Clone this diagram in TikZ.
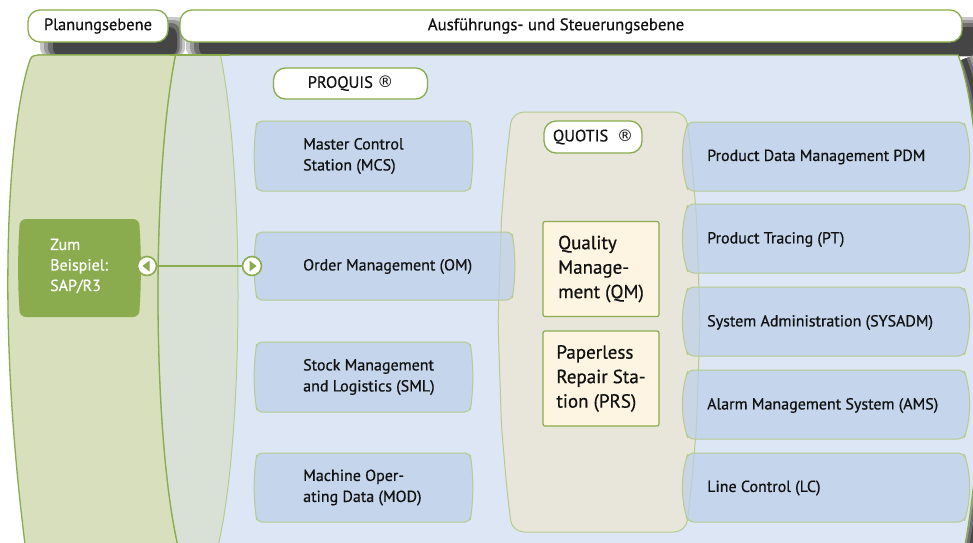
\documentclass[tikz,border=0pt]{standalone}
\usepackage{fontspec}
\setmainfont{PT Sans}[UprightFeatures={FakeBold=0.6}]
\newfontfamily\symfont{DejaVu Sans}
\definecolor{gdark}{HTML}{8AAC4E}
\definecolor{glight}{HTML}{B5CC8E}
\definecolor{gbody}{HTML}{D7DFBC}
\definecolor{gface}{HTML}{D9E1D7}
\definecolor{bluebg}{HTML}{DCE6F4}
\definecolor{bluebox}{HTML}{BBCFE9}
\definecolor{quotisc}{HTML}{E8E6DA}
\definecolor{cream}{HTML}{FDF5E1}
\definecolor{txt}{HTML}{111111}
\definecolor{sha}{HTML}{C8C8C8}
\definecolor{shb}{HTML}{9A9A9A}
\definecolor{shc}{HTML}{6E6E6E}
\definecolor{shd}{HTML}{454545}
% barrel-shaped box: #1 style, #2 x1, #3 y1, #4 x2, #5 y2, #6 bulge
\newcommand\barrel[6]{%
\path[#1] ({#2+#6},#3) -- ({#4-#6},#3)
 -- ({#4-0.64*#6},{#3+0.1*(#5-#3)})
 -- ({#4-0.25*#6},{#3+0.25*(#5-#3)})
 -- (#4,{#3+0.5*(#5-#3)})
 -- ({#4-0.25*#6},{#3+0.75*(#5-#3)})
 -- ({#4-0.64*#6},{#3+0.9*(#5-#3)})
 -- ({#4-#6},#5) -- ({#2+#6},#5)
 -- ({#2+0.64*#6},{#3+0.9*(#5-#3)})
 -- ({#2+0.25*#6},{#3+0.75*(#5-#3)})
 -- (#2,{#3+0.5*(#5-#3)})
 -- ({#2+0.25*#6},{#3+0.25*(#5-#3)})
 -- ({#2+0.64*#6},{#3+0.1*(#5-#3)})
 -- cycle;}
\newcommand\regmark{{\symfont\fontsize{16}{16}\selectfont ®}}
% shadow node: #1 colour, #2 x1, #3 y1, #4 x2, #5 y2, #6 name
\newcommand\shnode[6]{%
  \node[fill=#1, draw=none, inner sep=0pt, rounded corners=8pt,
    minimum width={(#4-#2)*1pt}, minimum height={(#5-#3)*1pt}]
    (#6) at ({(#2+#4)/2},{(#3+#5)/2}) {};}
\newcommand\mydrumshadow[2]{%
  \draw[#1, line width=#2pt] (964,59) .. controls (996,134) and (1000,424) .. (968,564);}
\begin{document}
\begin{tikzpicture}[x=1pt,y=-1pt,
  titlebox/.style={draw=gdark, line width=1.3pt, fill=white, rounded corners=12pt,
    inner sep=0pt, font=\fontsize{16.5}{18}\selectfont, text=txt},
  modtext/.style={font=\fontsize{16}{21}\selectfont, align=left, anchor=west,
    inner sep=0pt, text=txt},
  modbox/.style={fill=bluebox, fill opacity=0.7, draw=glight, line width=1pt, rounded corners=5pt},
  rmodbox/.style={fill=bluebox, fill opacity=0.7, draw=glight, line width=1pt, rounded corners=6pt},
  qmbox/.style={draw=gdark, line width=1.2pt, fill=cream, rounded corners=2pt,
    minimum width=116pt, minimum height=95pt, inner sep=0pt,
    align=left, font=\fontsize{19}{24.5}\selectfont, text=txt},
  portc/.style={circle, draw=gdark, line width=1.6pt, fill=white, minimum size=19pt, inner sep=0pt}
]
\useasboundingbox (0,0) rectangle (973,542);
\node[fill=white, draw=none, inner sep=0pt, minimum width=973pt, minimum height=542pt] (bg) at (486.5,271) {};
% shadows of the title boxes
\shnode{sha}{40}{17}{185}{56}{shp1}
\shnode{shb}{44}{20}{182}{56}{shp2}
\shnode{shc}{48}{23}{179.5}{56}{shp3}
\shnode{shd}{53}{27}{177}{56}{shp4}
\shnode{sha}{186}{17}{1000}{56}{shx1}
\shnode{shb}{190}{20}{1000}{56}{shx2}
\shnode{shc}{194}{23}{1000}{56}{shx3}
\shnode{shd}{199}{27}{1000}{56}{shx4}
\begin{scope}
\clip (0,0) rectangle (973,542);
% drum shadow on the right
\mydrumshadow{sha}{24}
\mydrumshadow{shb}{17}
\mydrumshadow{shc}{11}
\mydrumshadow{shd}{5}
% blue drum
\fill[bluebg] (190,55) -- (958,55) .. controls (988,130) and (992,420) .. (962,560) -- (190,560) -- cycle;
\draw[gdark, line width=1.3pt] (38,55) -- (958,55) .. controls (988,130) and (992,420) .. (962,560);
% green planning body
\path[fill=gbody, draw=gdark, line width=1.3pt] (38,55) -- (205,55) -- (205,560) -- (27,560)
  .. controls (10,430) and (7,330) .. (8,260) .. controls (9,170) and (18,95) .. (30,60)
  .. controls (32,56) .. (38,55);
% elliptical face
\begin{scope}
  \clip (0,55) rectangle (1000,600);
  \draw[fill=gface, draw=glight, line width=1pt] (198,295) ellipse [x radius=40pt, y radius=290pt];
  \clip (0,0) rectangle (198,600);
  \draw[gdark, line width=1.3pt] (198,295) ellipse [x radius=40pt, y radius=290pt];
\end{scope}
\draw[gdark, line width=1.3pt] (170,55) -- (230,55);
\end{scope}
% title boxes
\node[titlebox, minimum width=140pt, minimum height=32pt] (plan) at (98,26) {Planungsebene};
\node[titlebox, minimum width=782pt, minimum height=32pt] (exec) at (571,26) {};
\node[font=\fontsize{16.8}{18}\selectfont, text=txt, inner sep=0pt] (execlabel) at (556,26) {Ausführungs- und Steuerungsebene};
\node[titlebox, minimum width=154pt, minimum height=31pt] (proquis) at (350.5,83.5) {PROQUIS \regmark};
% left modules
\barrel{modbox}{254}{121}{473}{191}{3}
\node[modtext] (mcs) at (303,156) {Master Control\\Station (MCS)};
\barrel{modbox}{254}{342}{473}{412}{3}
\node[modtext] (sml) at (303,377) {Stock Management\\and Logistics (SML)};
\barrel{modbox}{254}{453}{473}{522}{3}
\node[modtext] (mod) at (303,487.5) {Machine Oper-\\ating Data (MOD)};
% QUOTIS region
\barrel{fill=quotisc, draw=glight, line width=1pt, rounded corners=12pt}{498}{112}{700}{532}{14}
\barrel{modbox}{254}{232}{515}{300}{3}
\node[modtext] (om) at (303,266.5) {Order Management (OM)};
% right modules
\begin{scope}
\clip (0,0) rectangle (973,542);
\barrel{rmodbox}{682}{122}{970}{191}{6}
\barrel{rmodbox}{682}{204}{970}{273}{6}
\barrel{rmodbox}{682}{287}{970}{356}{6}
\barrel{rmodbox}{682}{370}{970}{439}{6}
\barrel{rmodbox}{682}{453}{970}{522}{6}
\end{scope}
\node[modtext] (pdm) at (707,157) {Product Data Management PDM};
\node[modtext] (pt) at (707,239.5) {Product Tracing (PT)};
\node[modtext] (sys) at (707,322.5) {System Administration (SYSADM)};
\node[modtext] (ams) at (707,405.5) {Alarm Management System (AMS)};
\node[modtext] (lc) at (707,488) {Line Control (LC)};
% QUOTIS label and inner boxes
\node[titlebox, minimum width=98pt, minimum height=32pt] (quotis) at (593,137) {QUOTIS\ \ \regmark};
\node[qmbox] (qm) at (601,269) {Quality\\Manage-\\ment (QM)};
\node[qmbox] (prs) at (601,378.5) {Paperless\\Repair Sta-\\tion (PRS)};
% external system
\barrel{fill=gdark, rounded corners=6pt}{18}{219}{141}{317}{2}
\node[font=\fontsize{16}{20.5}\selectfont, text=white, align=left, anchor=west, inner sep=0pt] (sap) at (50,266) {Zum\\Beispiel:\\SAP/R3};
% interface
\node[portc] (cl) at (147,266) {};
\node[portc] (cr) at (252,266) {};
\draw[gdark, line width=1.8pt] (cl) -- (cr);
\fill[gdark] ([xshift=-4.5pt]cl.center) -- ++(7,-5.5) -- ++(0,11) -- cycle;
\fill[gdark] ([xshift=4.5pt]cr.center) -- ++(-7,-5.5) -- ++(0,11) -- cycle;
\end{tikzpicture}
\end{document}
